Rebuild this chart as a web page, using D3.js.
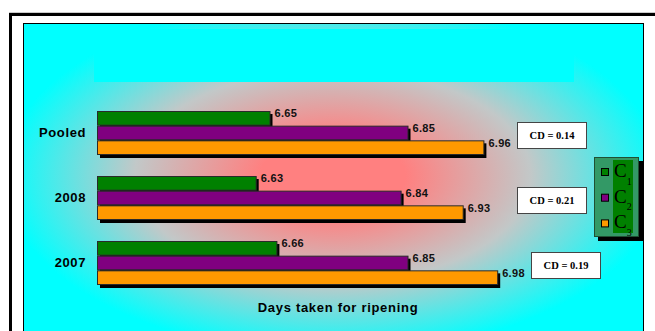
<!DOCTYPE html>
<html>
<head>
<meta charset="utf-8">
<script src="https://cdn.jsdelivr.net/npm/d3@7"></script>
<style>
  body { margin: 0; background: #fff; }
  svg { display: block; }
</style>
</head>
<body>
<div id="chart"></div>
<script>
'use strict';

// data
const categories = ['Pooled', '2008', '2007'];
const series = ['C1', 'C2', 'C3'];
const c1_vals = [6.65, 6.63, 6.66];
const c2_vals = [6.85, 6.84, 6.85];
const c3_vals = [6.96, 6.93, 6.98];
const cd_vals = ['0.14', '0.21', '0.19'];
const x_title = 'Days taken for ripening';

const series_colors = ['#008000', '#800080', '#ff9900'];

const dataset = categories.map((cat, i) => ({
  cat: cat,
  values: [c1_vals[i], c2_vals[i], c3_vals[i]]
}));

const width = 655, height = 331;

const svg = d3.select('#chart').append('svg')
  .attr('width', width)
  .attr('height', height);

// background gradient
const defs = svg.append('defs');
const grad = defs.append('radialGradient')
  .attr('id', 'bg_grad')
  .attr('gradientUnits', 'userSpaceOnUse')
  .attr('cx', 0).attr('cy', 0).attr('r', 1)
  .attr('gradientTransform', 'translate(333,176) scale(330,178)');
[[0, '#ff8080'], [0.22, '#ff8080'], [0.6, '#c2c8c8'], [1, '#00ffff']]
  .forEach(s => grad.append('stop').attr('offset', s[0]).attr('stop-color', s[1]));

// outer frame
svg.append('line').attr('x1', 9).attr('x2', 655).attr('y1', 12.5).attr('y2', 12.5)
  .attr('stroke', '#ccc').attr('stroke-width', 1);
svg.append('rect')
  .attr('x', 10.5).attr('y', 14.5)
  .attr('width', 700).attr('height', 400)
  .attr('fill', '#fff')
  .attr('stroke', '#000').attr('stroke-width', 3);

// plot area
svg.append('rect')
  .attr('x', 23.5).attr('y', 23.5)
  .attr('width', 620).attr('height', 330)
  .attr('fill', 'url(#bg_grad)')
  .attr('stroke', '#000').attr('stroke-width', 1);

// title band
svg.append('rect')
  .attr('x', 94).attr('y', 29)
  .attr('width', 480).attr('height', 53)
  .attr('fill', '#00ffff');

// scales
const x_scale = d3.scaleLinear()
  .domain([6.4, 7.0])
  .range([97, 511]);

const y_scale = d3.scaleBand()
  .domain(categories)
  .range([100.5, 295.5])
  .paddingInner(0.323)
  .paddingOuter(0.1615);

const inner_scale = d3.scaleBand()
  .domain(series)
  .range([0, y_scale.bandwidth()]);

const chart_g = svg.append('g');

const groups = chart_g.selectAll('g.grp')
  .data(dataset)
  .join('g')
  .attr('class', 'grp')
  .attr('transform', d => `translate(0,${y_scale(d.cat)})`);

const bar_data = d => d.values.map((v, i) => ({ key: series[i], value: v, idx: i }));

// shadows
groups.append('g')
  .selectAll('rect')
  .data(bar_data)
  .join('rect')
  .attr('x', x_scale(6.4) + 3)
  .attr('y', d => inner_scale(d.key) + 3)
  .attr('width', d => x_scale(d.value) - x_scale(6.4))
  .attr('height', inner_scale.bandwidth())
  .attr('fill', '#000');

// bars
groups.append('g')
  .selectAll('rect')
  .data(bar_data)
  .join('rect')
  .attr('x', x_scale(6.4) + 0.5)
  .attr('y', d => inner_scale(d.key) + 0.5)
  .attr('width', d => x_scale(d.value) - x_scale(6.4))
  .attr('height', inner_scale.bandwidth() - 1)
  .attr('fill', d => series_colors[d.idx])
  .attr('stroke', '#2a2a2a')
  .attr('stroke-width', 1);

// value labels
groups.append('g')
  .style('font-family', 'Liberation Sans, Arial, sans-serif')
  .style('font-weight', 'bold')
  .style('font-size', '11px')
  .style('letter-spacing', '0.3px')
  .selectAll('text')
  .data(bar_data)
  .join('text')
  .attr('x', d => x_scale(d.value) + 5)
  .attr('y', d => inner_scale(d.key) + 6.5)
  .attr('fill', '#111')
  .text(d => d.value.toFixed(2));

// category labels
chart_g.append('g')
  .style('font-family', 'Liberation Sans, Arial, sans-serif')
  .style('font-weight', 'bold')
  .style('font-size', '13px')
  .style('letter-spacing', '0.6px')
  .selectAll('text')
  .data(categories)
  .join('text')
  .attr('x', 86)
  .attr('y', d => y_scale(d) + y_scale.bandwidth() / 2 + 3.5)
  .attr('text-anchor', 'end')
  .attr('fill', '#000')
  .text(d => d);

// x title
svg.append('text')
  .attr('x', 338)
  .attr('y', 311.5)
  .attr('text-anchor', 'middle')
  .style('font-family', 'Liberation Sans, Arial, sans-serif')
  .style('font-weight', 'bold')
  .style('font-size', '13px')
  .style('letter-spacing', '0.7px')
  .text(x_title);

// CD boxes
const cd_left = [517, 517, 531];
const cd_g = svg.append('g').selectAll('g')
  .data(cd_vals)
  .join('g')
  .attr('transform', (d, i) => `translate(${cd_left[i]},${y_scale(categories[i]) + y_scale.bandwidth() / 2 - 11})`);

cd_g.append('rect')
  .attr('x', 0.5).attr('y', 0.5)
  .attr('width', 69).attr('height', 26)
  .attr('fill', '#fff')
  .attr('stroke', '#444').attr('stroke-width', 1);

cd_g.append('text')
  .attr('x', 35).attr('y', 16.5)
  .attr('text-anchor', 'middle')
  .style('font-family', 'Liberation Serif, Times New Roman, serif')
  .style('font-weight', 'bold')
  .style('font-size', '10.5px')
  .text(d => `CD = ${d}`);

// legend
const legend_g = svg.append('g').attr('transform', 'translate(594,157)');
legend_g.append('rect')
  .attr('x', 4).attr('y', 4)
  .attr('width', 45).attr('height', 80)
  .attr('fill', '#000');
legend_g.append('rect')
  .attr('x', 0.5).attr('y', 0.5)
  .attr('width', 44).attr('height', 79)
  .attr('fill', '#339966')
  .attr('stroke', '#1f4f33').attr('stroke-width', 1);
legend_g.append('rect')
  .attr('x', 19).attr('y', 3)
  .attr('width', 20).attr('height', 73)
  .attr('fill', '#008000');

const legend_item = legend_g.selectAll('g.item')
  .data(series)
  .join('g')
  .attr('class', 'item')
  .attr('transform', (d, i) => `translate(0,${15 + i * 25.7})`);

legend_item.append('rect')
  .attr('x', 7.5).attr('y', -3.5)
  .attr('width', 7).attr('height', 7)
  .attr('fill', (d, i) => series_colors[i])
  .attr('stroke', '#000').attr('stroke-width', 1);

const leg_text = legend_item.append('text')
  .attr('x', 20).attr('y', 5)
  .style('font-family', 'Liberation Serif, Times New Roman, serif')
  .style('font-size', '19px')
  .attr('fill', '#000');
leg_text.append('tspan').text(d => d[0]);
leg_text.append('tspan')
  .attr('dy', 7.5)
  .style('font-size', '10px')
  .text(d => d.slice(1));
</script>
</body>
</html>
